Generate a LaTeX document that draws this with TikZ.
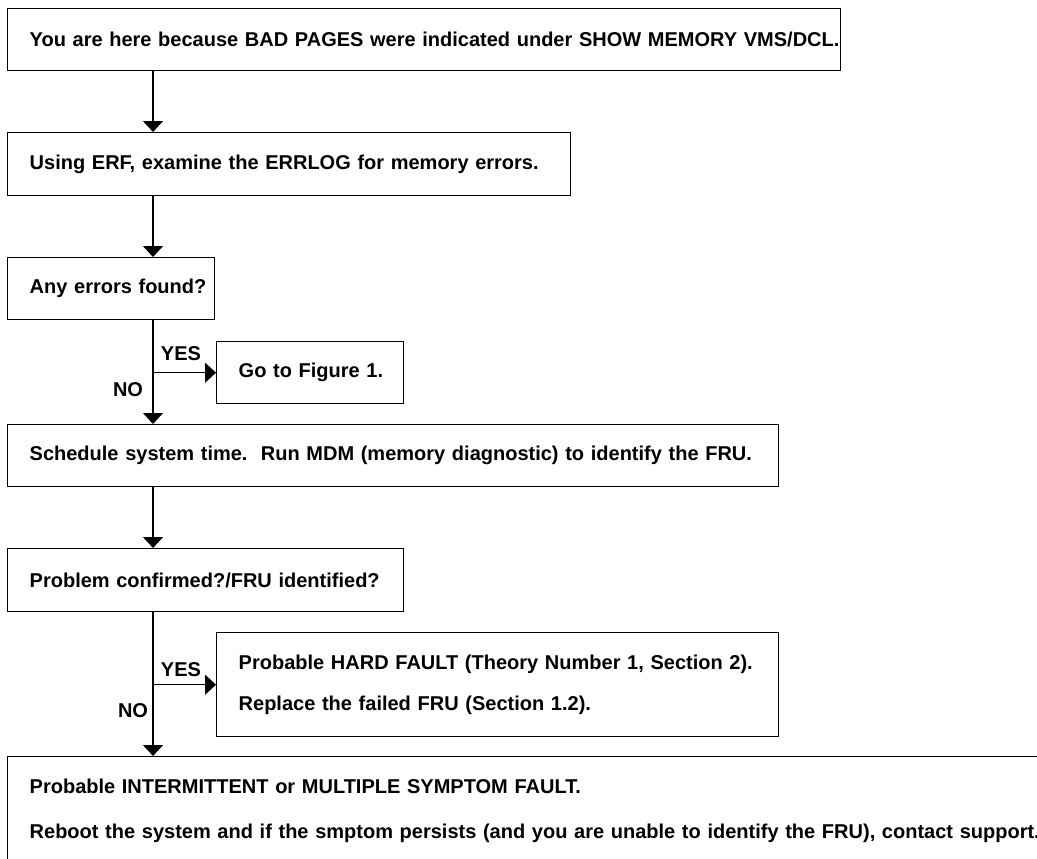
\documentclass[tikz,border=0pt]{standalone}
\usepackage{fontspec}
\setmainfont{Liberation Sans}
\usetikzlibrary{arrows.meta,positioning}

\begin{document}
\begin{tikzpicture}[x=1pt,y=-1pt,
                    box/.style={draw, line width=1.4pt, anchor=north west, align=left,
                                inner xsep=22pt, inner ysep=0pt,
                                font=\fontsize{20}{41}\selectfont\bfseries},
                    flow/.style={line width=1.1pt, -{Triangle[width=20pt,length=11pt]}},
                    lbl/.style={font=\fontsize{20}{24}\selectfont\bfseries},
                   ]

\useasboundingbox (0,0) rectangle (1037,859);
\fill[white] (0,0) rectangle (1037,859);

\coordinate (spine) at (153,0);

\node[box, text width=789pt, minimum height=62pt] (here) at (7,8)
     {\mbox{You are here because BAD PAGES were indicated under SHOW MEMORY VMS/DCL.}};
\node[box, text width=519pt, minimum height=63pt] (erf) at (7,132)
     {\mbox{Using ERF, examine the ERRLOG for memory errors.}};
\node[box, text width=163pt, minimum height=62pt] (found) at (7,257)
     {\mbox{Any errors found?}};
\node[box, text width=143pt, minimum height=62pt] (fig) at (216,341)
     {\mbox{Go to Figure 1.}};
\node[box, text width=727pt, minimum height=62pt] (mdm) at (7,424)
     {\mbox{Schedule system time.\ \ Run MDM (memory diagnostic) to identify the FRU.}};
\node[box, text width=352pt, minimum height=63pt] (confirm) at (7,548)
     {\mbox{Problem confirmed?/FRU identified?}};
\node[box, text width=518pt, minimum height=104pt] (hard) at (216,632)
     {\mbox{Probable HARD FAULT (Theory Number 1, Section 2).}\\
      \mbox{Replace the failed FRU (Section 1.2).}};
\node[box, text width=1030pt, minimum height=108pt] (interm) at (7,756)
     {\mbox{Probable INTERMITTENT or MULTIPLE SYMPTOM FAULT.}\\[4pt]
      \mbox{Reboot the system and if the smptom persists (and you are unable to identify the FRU), contact support.}};

\draw[flow] (here.south -| spine) -- (erf.north -| spine);
\draw[flow] (erf.south -| spine) -- (found.north -| spine);
\draw[flow] (found.south -| spine) -- (mdm.north -| spine);
\draw[flow] (spine |- fig.west) -- (fig.west);
\draw[flow] (mdm.south -| spine) -- (confirm.north -| spine);
\draw[flow] (confirm.south -| spine) -- (interm.north -| spine);
\draw[flow] (spine |- hard.west) -- (hard.west);

\node[lbl] (yesa) at (181,354) {YES};
\node[lbl] (noa) at (128,390) {NO};
\node[lbl] (yesb) at (181,670) {YES};
\node[lbl] (nob) at (133,711) {NO};

\end{tikzpicture}
\end{document}
